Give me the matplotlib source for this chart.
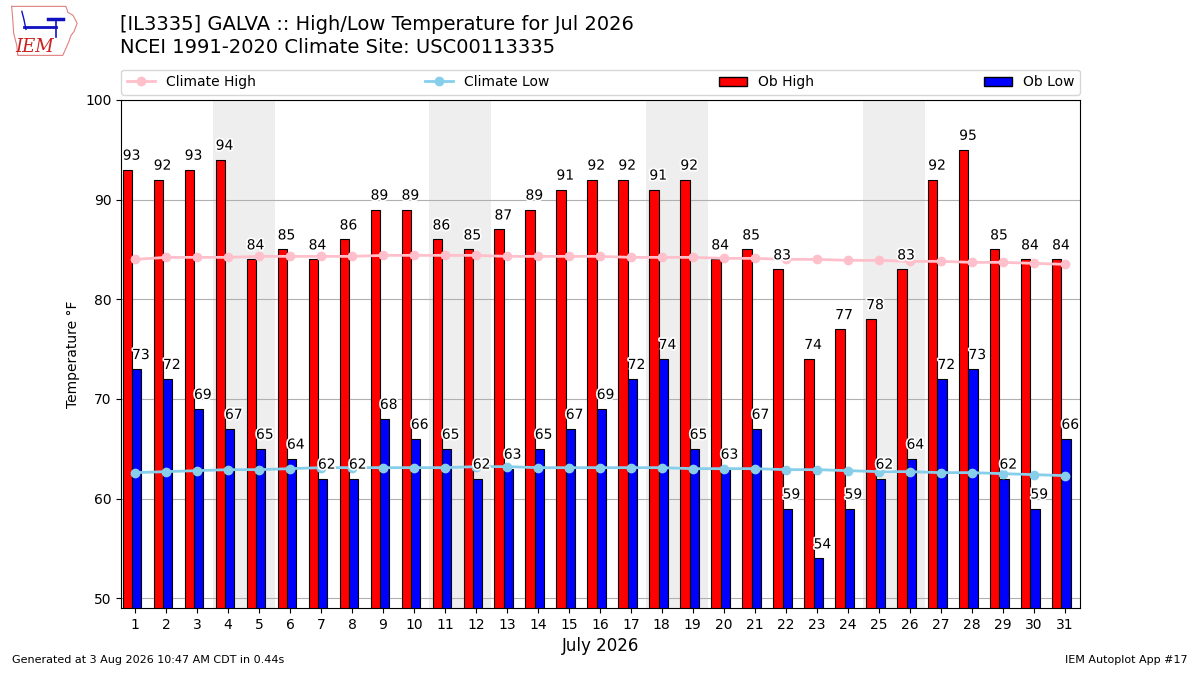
import matplotlib
matplotlib.use("Agg")
import matplotlib.pyplot as plt
import matplotlib.patheffects as pe
from matplotlib.patches import Patch
from matplotlib.lines import Line2D
import numpy as np

days = list(range(1, 32))
ob_high = [93, 92, 93, 94, 84, 85, 84, 86, 89, 89, 86, 85, 87, 89, 91, 92,
           92, 91, 92, 84, 85, 83, 74, 77, 78, 83, 92, 95, 85, 84, 84]
ob_low = [73, 72, 69, 67, 65, 64, 62, 62, 68, 66, 65, 62, 63, 65, 67, 69,
          72, 74, 65, 63, 67, 59, 54, 59, 62, 64, 72, 73, 62, 59, 66]
clim_high = [84.0, 84.2, 84.2, 84.2, 84.3, 84.3, 84.3, 84.3, 84.4, 84.4, 84.4,
             84.4, 84.3, 84.3, 84.3, 84.3, 84.2, 84.2, 84.2, 84.1, 84.1, 84.0,
             84.0, 83.9, 83.9, 83.8, 83.8, 83.7, 83.7, 83.6, 83.5]
clim_low = [62.6, 62.7, 62.8, 62.9, 62.9, 63.0, 63.1, 63.1, 63.1, 63.1, 63.1,
            63.2, 63.2, 63.1, 63.1, 63.1, 63.1, 63.1, 63.0, 63.0, 63.0, 62.9,
            62.9, 62.8, 62.7, 62.7, 62.6, 62.6, 62.5, 62.4, 62.3]
weekend_starts = [4, 11, 18, 25]

fig = plt.figure(figsize=(12, 6.75), dpi=100)
ax = fig.add_axes([0.101, 0.099, 0.799, 0.753])

for d in weekend_starts:
    ax.axvspan(d - 0.5, d + 1.5, color="#EEEEEE", zorder=0, lw=0)

x = np.array(days)
ax.bar(x - 0.4, ob_high, width=0.3, align="edge", color="red",
       edgecolor="black", linewidth=0.8, zorder=1.6, bottom=0)
ax.bar(x - 0.1, ob_low, width=0.3, align="edge", color="blue",
       edgecolor="black", linewidth=0.8, zorder=1.6, bottom=0)
ax.plot(x, clim_high, color="pink", marker="o", ms=6, lw=2, zorder=2)
ax.plot(x, clim_low, color="skyblue", marker="o", ms=6, lw=2, zorder=2)

stroke = [pe.withStroke(linewidth=2.5, foreground="white")]
for d, h, l in zip(days, ob_high, ob_low):
    ax.text(d - 0.4, h + 0.7, f"{h}", ha="left", va="bottom", fontsize=10,
            path_effects=stroke, zorder=3)
    ax.text(d - 0.1, l + 0.7, f"{l}", ha="left", va="bottom", fontsize=10,
            path_effects=stroke, zorder=3)

ax.set_ylim(49, 100)
ax.set_xlim(0.55, 31.5)
ax.set_yticks(range(50, 101, 10))
ax.set_xticks(days)
ax.set_xticklabels([str(d) for d in days])
ax.tick_params(labelsize=10)
ax.yaxis.grid(True, color="#b0b0b0", lw=0.8)
ax.set_axisbelow(True)
ax.set_ylabel("Temperature °F", fontsize=10)
ax.set_xlabel("July 2026", fontsize=12)

handles = [
    Line2D([], [], color="pink", marker="o", ms=6, lw=2, label="Climate High"),
    Line2D([], [], color="skyblue", marker="o", ms=6, lw=2, label="Climate Low"),
    Patch(facecolor="red", edgecolor="black", label="Ob High"),
    Patch(facecolor="blue", edgecolor="black", label="Ob Low"),
]
ax.legend(handles=handles, bbox_to_anchor=(0, 1.01, 1, 0.06), loc="lower left",
          ncol=4, mode="expand", borderaxespad=0, fontsize=10)

fig.text(0.1, 0.963, "[IL3335] GALVA :: High/Low Temperature for Jul 2026",
         fontsize=14, va="center", ha="left")
fig.text(0.1, 0.929, "NCEI 1991-2020 Climate Site: USC00113335",
         fontsize=14, va="center", ha="left")
fig.text(0.01, 0.015, "Generated at 3 Aug 2026 10:47 AM CDT in 0.44s",
         fontsize=8, ha="left", va="bottom")
fig.text(0.99, 0.015, "IEM Autoplot App #17", fontsize=8, ha="right", va="bottom")

# simple logo approximation
lax = fig.add_axes([0.008, 0.915, 0.058, 0.08])
lax.set_xlim(0, 68)
lax.set_ylim(54, 0)
lax.axis("off")
outline_x = [2, 55, 57, 62, 66, 63, 60, 58, 52, 8, 7, 4, 3, 2]
outline_y = [3, 3, 9, 12, 20, 28, 32, 38, 52, 52, 42, 30, 15, 3]
lax.plot(outline_x, outline_y, color="#e08080", lw=0.8)
lax.plot([14, 45], [24, 24], color="#1010c0", lw=2)
lax.plot([38, 52], [16, 16], color="#1010c0", lw=2.5)
lax.plot([45, 45], [16, 34], color="#1010c0", lw=1.2)
lax.plot([12, 14, 16], [8, 16, 26], color="#1010c0", lw=1)
lax.text(24, 44, "IEM", color="#cc2020", fontsize=13, style="italic",
         family="DejaVu Serif", ha="center", va="center")

fig.savefig("out.png", dpi=100)
